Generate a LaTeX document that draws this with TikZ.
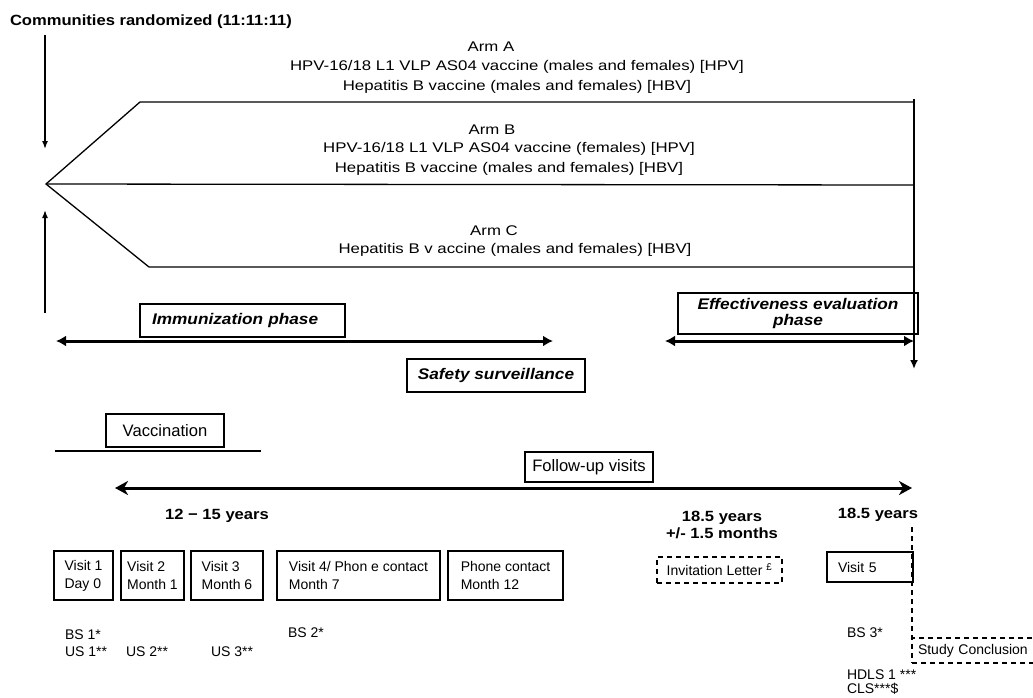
\documentclass[tikz,border=0pt]{standalone}
\usepackage{fontspec}
\setmainfont{Liberation Sans}
\newfontfamily\armsfont[FakeStretch=1.2]{Liberation Sans}
\newfontfamily\hdfont[FakeStretch=1.12]{Liberation Sans}
\usetikzlibrary{arrows.meta}

\begin{document}
\begin{tikzpicture}[x=1pt,y=-1pt,every node/.style={inner sep=0pt, outer sep=0pt},
armtext/.style={font=\armsfont\fontsize{14}{19.5}\selectfont, align=center},
heading/.style={font=\hdfont\bfseries\fontsize{14.8}{17}\selectfont, align=center},
phasebox/.style={draw, line width=1.2pt, font=\hdfont\bfseries\itshape\fontsize{15.4}{16}\selectfont, align=center},
plainbox/.style={draw, line width=1.2pt, font=\fontsize{16.6}{18}\selectfont},
visitbox/.style={draw, line width=1.6pt, font=\fontsize{14}{18}\selectfont, align=left, anchor=north west},
dashbox/.style={draw, line width=1.3pt, dash pattern=on 5pt off 4pt, font=\fontsize{14}{18}\selectfont},
dashline/.style={line width=1.3pt, dash pattern=on 5pt off 4pt},
note/.style={font=\fontsize{14}{17}\selectfont, anchor=west},
outline/.style={line width=1.3pt},
thinarrow/.style={line width=1.5pt, -{Latex[length=8pt,width=6pt]}},
phasearrow/.style={line width=3pt, {Latex[length=10pt,width=11pt]}-{Latex[length=10pt,width=11pt]}},
followarrow/.style={line width=3pt, {Stealth[length=13pt,width=14pt,inset=4pt]}-{Stealth[length=13pt,width=14pt,inset=4pt]}}]
\useasboundingbox (0,0) rectangle (1033,697);
\clip (0,0) rectangle (1033,697);
\node[heading, anchor=west] (title) at (10,22) {Communities randomized (11:11:11)};
\coordinate (apex) at (46,184);
\coordinate (topl) at (140,102);
\coordinate (topr) at (914,102);
\coordinate (botl) at (149,267);
\coordinate (botr) at (914,267);
\coordinate (midr) at (914,185);
\coordinate (endr) at (914,99);
\coordinate (tipr) at (914,369);
\coordinate (dtop) at (45,35);
\coordinate (dtip) at (45,149);
\coordinate (ubot) at (45,313);
\coordinate (utip) at (45,210);
\draw[outline] (topr) -- (topl) -- (apex) -- (botl) -- (botr);
\draw[outline] (apex) -- (midr);
\draw[line width=2.2pt, -{Latex[length=9pt,width=8pt]}] (endr) -- (tipr);
\draw[thinarrow] (dtop) -- (dtip);
\draw[thinarrow] (ubot) -- (utip);
\foreach \nm/\x/\y/\txt in {arma/491/47/Arm A, armb/492/130/Arm B, armc/494/231/Arm C} {
\node[armtext] (\nm) at (\x,\y) {\txt};
}
\node[armtext] (vacca) at (517,77) {HPV-16/18 L1 VLP AS04 vaccine (males and females) [HPV]\\Hepatitis B vaccine (males and females) [HBV]};
\node[armtext] (vaccb) at (509,159) {HPV-16/18 L1 VLP AS04 vaccine (females) [HPV]\\Hepatitis B vaccine (males and females) [HBV]};
\node[armtext] (vaccc) at (515,250) {Hepatitis B v accine (males and females) [HBV]};
\node[phasebox, anchor=north west, text width=181pt, inner xsep=12pt, minimum height=33pt, align=left] (immun) at (140,304) {Immunization phase};
\node[phasebox, minimum width=240pt, minimum height=41pt] (effect) at (798,313.5) {Effectiveness evaluation\\phase};
\node[phasebox, minimum width=178pt, minimum height=33pt] (safety) at (496,375.5) {Safety surveillance};
\coordinate (ia) at (56,341);
\coordinate (ib) at (553,341);
\coordinate (ea) at (665,341);
\coordinate (eb) at (914,341);
\draw[phasearrow] (ia) -- (ib);
\draw[phasearrow] (ea) -- (eb);
\node[plainbox, minimum width=118pt, minimum height=33pt] (vacc) at (165,430.5) {Vaccination};
\coordinate (va) at (55,451);
\coordinate (vb) at (261,451);
\draw[line width=1.3pt] (va) -- (vb);
\node[plainbox, minimum width=128pt, minimum height=30pt] (follow) at (589,467) {Follow-up visits};
\coordinate (fa) at (115,488);
\coordinate (fb) at (912,488);
\draw[followarrow] (fa) -- (fb);
\node[heading] (agea) at (217,516) {12 − 15 years};
\node[heading] (ageb) at (722,524.5) {18.5 years\\+/- 1.5 months};
\node[heading] (agec) at (878,515) {18.5 years};
\foreach \nm/\xl/\xr/\txt in {visa/54/113/{Visit 1\\Day 0}, visb/121/184/{Visit 2\\Month 1}, visc/191/263/{Visit 3\\Month 6}, visd/277/440/{Visit 4/ Phon e contact\\Month 7}, vise/448/563/{Phone contact\\Month 12}} {
\pgfmathsetmacro\bw{\xr-\xl}
\node[visitbox, minimum width=\bw pt, minimum height=49pt] (\nm) at (\xl,551) {\txt};
}
\node[visitbox, text width=64pt, inner xsep=11pt, minimum height=30pt] (visf) at (827,552) {Visit 5};
\node[dashbox, minimum width=125pt, minimum height=26pt] (invite) at (719.5,570) {Invitation Letter \textsuperscript{£}};
\node[dashbox, anchor=west, text width=130pt, align=left, inner xsep=6pt, minimum height=25pt] (study) at (912,650.5) {Study Conclusion};
\coordinate (dashtop) at (912,527);
\draw[dashline] (dashtop) -- (study.north west);
\foreach \nm/\x/\y/\txt in {bsa/65/635/BS 1*, usa/65/652/US 1**, usb/126/652/US 2**, usc/211/652/US 3**, bsb/288/633/BS 2*, bsc/847/633/BS 3*, hdls/847/675/HDLS 1 ***, cls/847/689/CLS***\$} {
\node[note] (\nm) at (\x,\y) {\txt};
}
\end{tikzpicture}
\end{document}
